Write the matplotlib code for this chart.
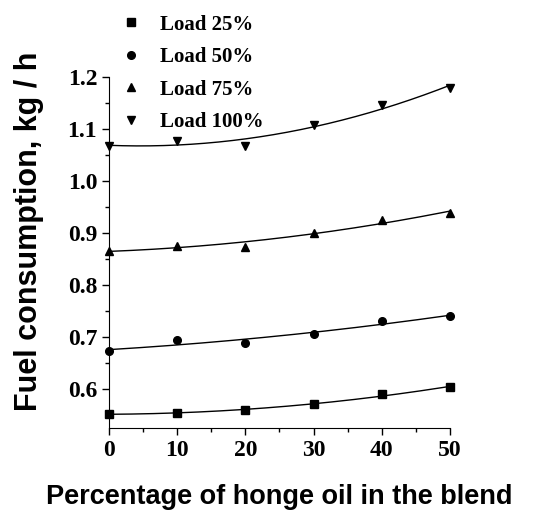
import numpy as np
import matplotlib.pyplot as plt

# percentage of honge oil in the blend
blend = [0, 10, 20, 30, 40, 50]

# fuel consumption, kg/h
load25 = [0.552, 0.553, 0.560, 0.570, 0.590, 0.603]
load50 = [0.672, 0.695, 0.688, 0.706, 0.730, 0.740]
load75 = [0.865, 0.876, 0.873, 0.901, 0.926, 0.938]
load100 = [1.068, 1.077, 1.068, 1.107, 1.147, 1.180]

labels = ['Load 25%', 'Load 50%', 'Load 75%', 'Load 100%']
markers = ['s', 'o', '^', 'v']

fig = plt.figure(figsize=(5.48, 5.18), dpi=100)
ax = fig.add_axes([0.199, 0.174, 0.622, 0.677])

xs = np.linspace(0, 50, 200)
for y, lab, m in zip([load25, load50, load75, load100], labels, markers):
    ax.plot(blend, y, linestyle='none', marker=m, color='black', markersize=5.5, label=lab, clip_on=False)
    p = np.polyfit(blend, y, 2)
    ax.plot(xs, np.polyval(p, xs), color='black', linewidth=1)

ax.set_xlim(0, 50)
ax.set_ylim(0.525, 1.2)
ax.set_xticks([0, 10, 20, 30, 40, 50])
ax.set_xticks(np.arange(5, 50, 10), minor=True)
ax.set_yticks([0.6, 0.7, 0.8, 0.9, 1.0, 1.1, 1.2])
ax.set_yticks([0.55, 0.65, 0.75, 0.85, 0.95, 1.05, 1.15], minor=True)
ax.set_yticklabels(['0.6', '0.7', '0.8', '0.9', '1.0', '1.1', '1.2'])
ax.spines['top'].set_visible(False)
ax.spines['right'].set_visible(False)
ax.tick_params(which='major', direction='out', length=5, width=1)
ax.tick_params(which='minor', direction='out', length=3, width=1)
for t in ax.get_xticklabels() + ax.get_yticklabels():
    t.set_fontfamily('Liberation Serif')
    t.set_fontweight('bold')
    t.set_fontsize(17)

ax.set_xlabel('Percentage of honge oil in the blend', fontfamily='Liberation Sans',
              fontweight='bold', fontsize=19.5)
ax.xaxis.set_label_coords(0.5, -0.16)
ax.set_ylabel('Fuel consumption, kg / h', fontfamily='Liberation Sans', fontweight='bold',
              fontsize=22)
ax.yaxis.set_label_coords(-0.19, 0.56)

h, l = ax.get_legend_handles_labels()
fig.legend(h[:4], labels, loc='upper left', bbox_to_anchor=(0.19, 1.0), frameon=False,
           prop={'family': 'Liberation Serif', 'weight': 'bold', 'size': 15},
           handletextpad=0.8, labelspacing=0.6, handlelength=1.2, borderaxespad=0.3)

fig.savefig('out.png', dpi=100)
